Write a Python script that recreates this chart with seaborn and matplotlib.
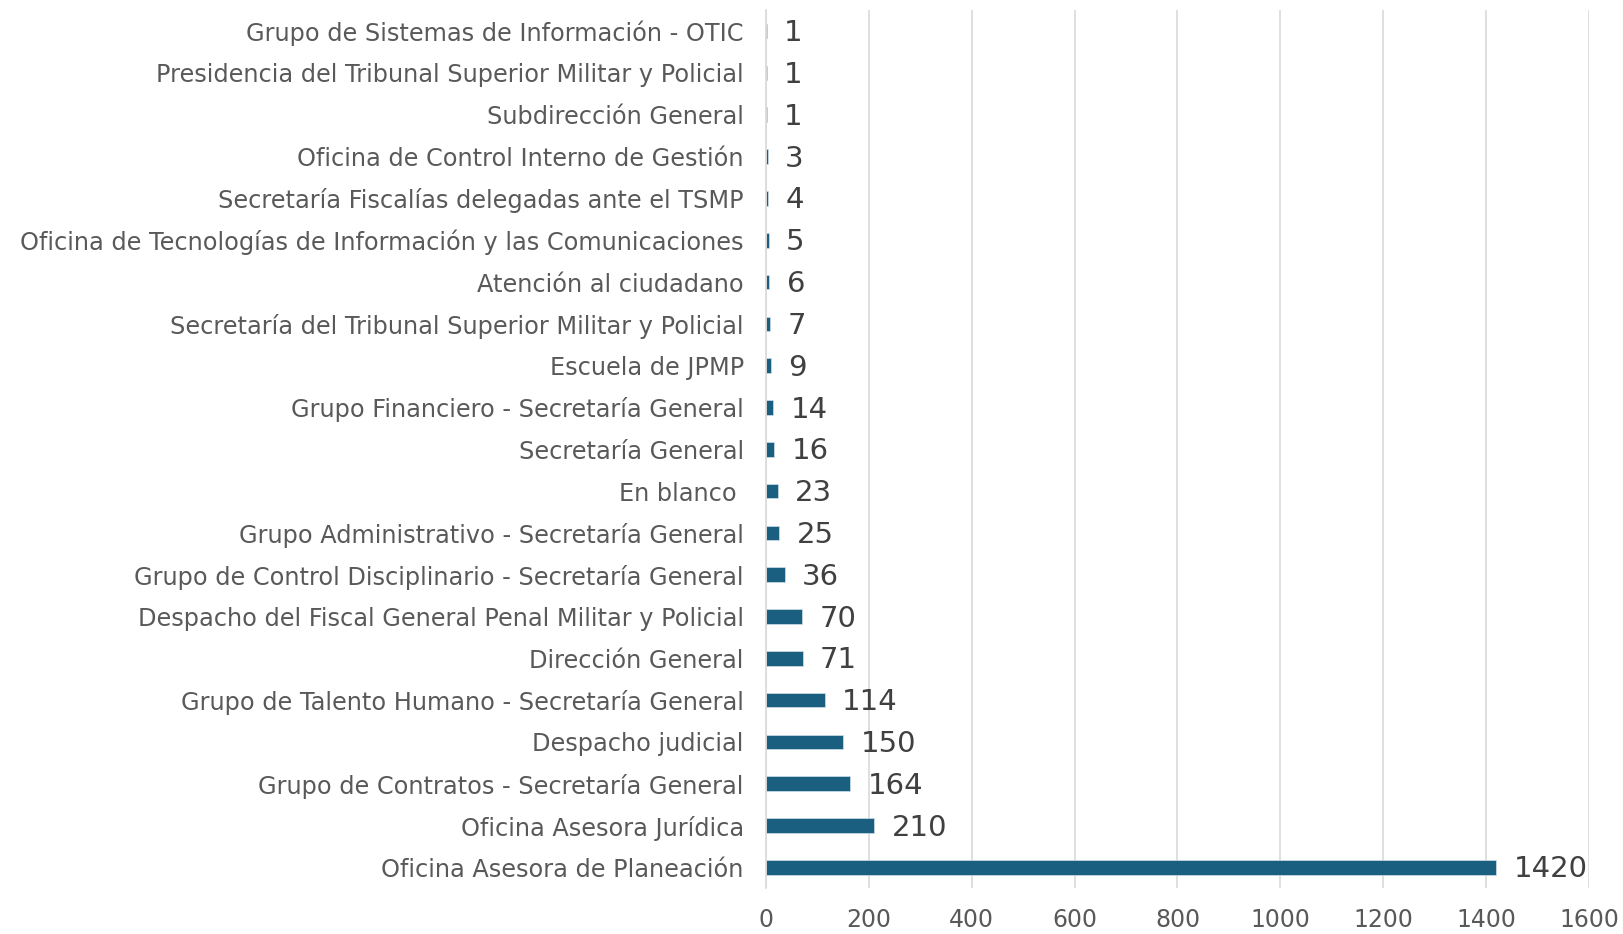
import matplotlib
matplotlib.use("Agg")
import matplotlib.pyplot as plt
import seaborn as sns
import pandas as pd

categorias = [
    "Grupo de Sistemas de Información - OTIC",
    "Presidencia del Tribunal Superior Militar y Policial",
    "Subdirección General",
    "Oficina de Control Interno de Gestión",
    "Secretaría Fiscalías delegadas ante el TSMP",
    "Oficina de Tecnologías de Información y las Comunicaciones",
    "Atención al ciudadano",
    "Secretaría del Tribunal Superior Militar y Policial",
    "Escuela de JPMP",
    "Grupo Financiero - Secretaría General",
    "Secretaría General",
    "En blanco ",
    "Grupo Administrativo - Secretaría General",
    "Grupo de Control Disciplinario - Secretaría General",
    "Despacho del Fiscal General Penal Militar y Policial",
    "Dirección General",
    "Grupo de Talento Humano - Secretaría General",
    "Despacho judicial",
    "Grupo de Contratos - Secretaría General",
    "Oficina Asesora Jurídica",
    "Oficina Asesora de Planeación",
]
valores = [1, 1, 1, 3, 4, 5, 6, 7, 9, 14, 16, 23, 25, 36, 70, 71, 114, 150, 164, 210, 1420]
ticks_x = [0, 200, 400, 600, 800, 1000, 1200, 1400, 1600]

df = pd.DataFrame({"area": categorias, "valor": valores})

sns.set_theme(style="white")
plt.rcParams["font.family"] = ["DejaVu Sans"]

fig = plt.figure(figsize=(16.23, 9.34), dpi=100)
ax = fig.add_axes([0.472, 0.049, 0.507, 0.940])

sns.barplot(data=df, y="area", x="valor", color="#1b5f80", width=0.35,
            edgecolor="#cfe0ea", linewidth=0.5, saturation=1, ax=ax)

for i, v in enumerate(valores):
    ax.text(v + 34, i + 0.05, str(v), va="center", ha="left", fontsize=21, color="#404040")

ax.set_xlim(0, 1600)
ax.set_xticks(ticks_x)
ax.xaxis.grid(True, color="#d9d9d9", linewidth=1.2)
ax.set_axisbelow(True)
ax.set_xlabel("")
ax.set_ylabel("")
for s in ["top", "right", "bottom"]:
    ax.spines[s].set_visible(False)
ax.spines["left"].set_color("#d9d9d9")
ax.spines["left"].set_linewidth(1.2)
ax.tick_params(axis="y", length=0, pad=16, labelsize=17.3, labelcolor="#595959")
ax.tick_params(axis="x", length=0, pad=14, labelsize=17, labelcolor="#595959")

fig.savefig("out.png", dpi=100)
